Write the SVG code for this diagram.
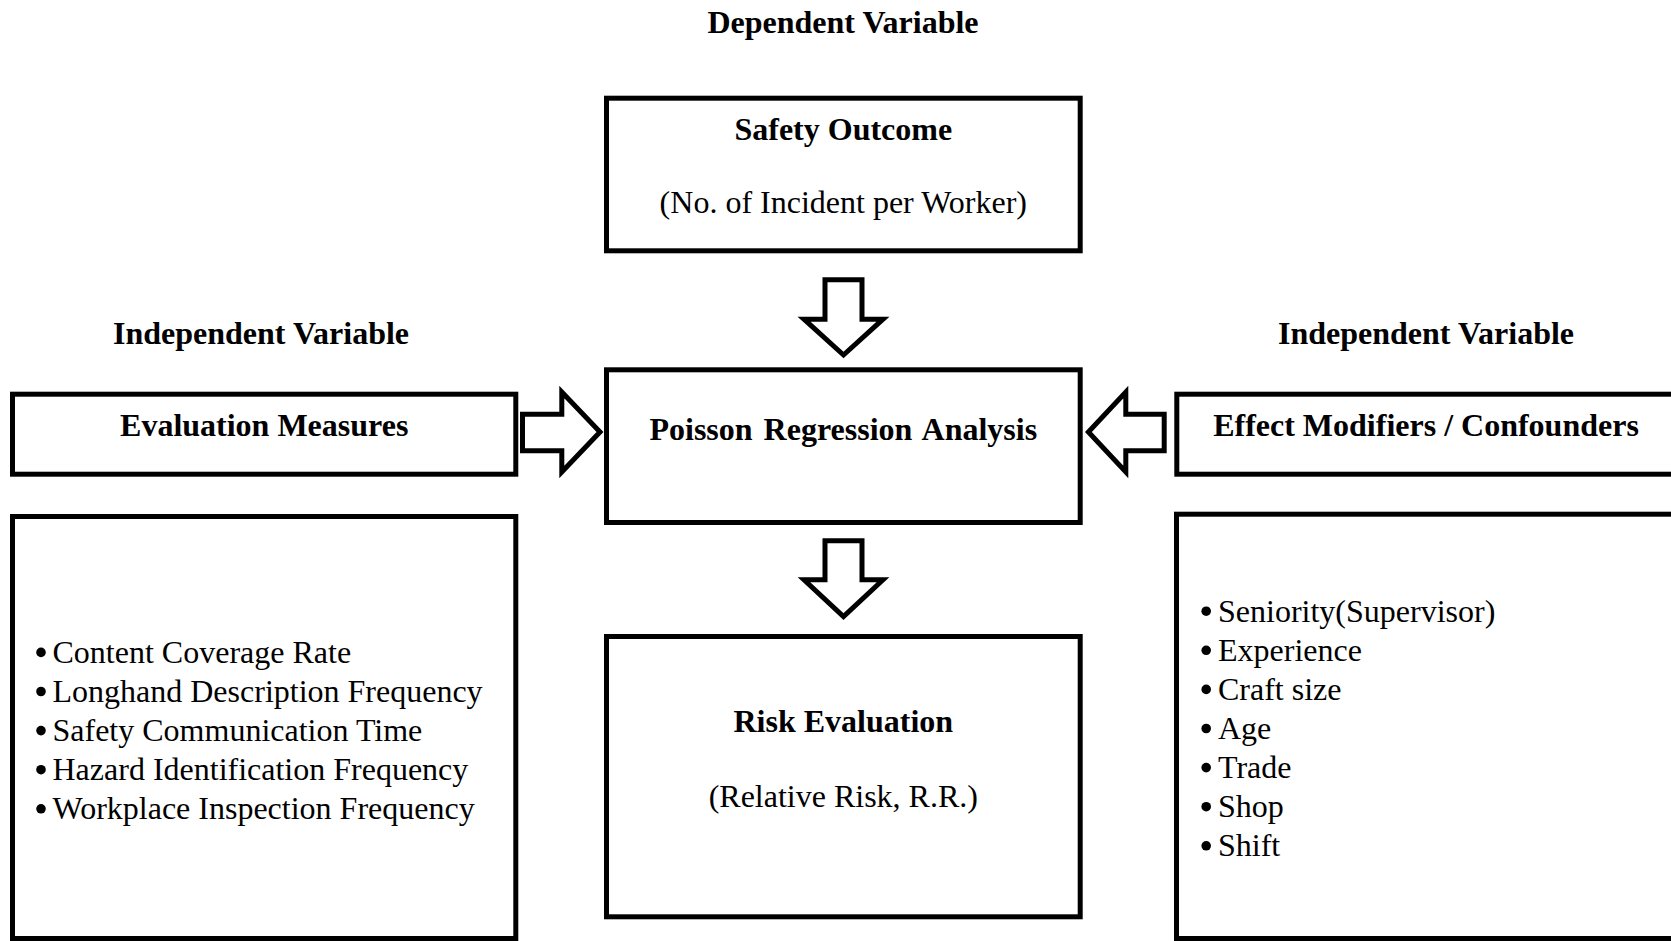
<svg xmlns="http://www.w3.org/2000/svg" width="1671" height="941" viewBox="0 0 1671 941">
  <style>
    .box { fill: #ffffff; stroke: #000000; stroke-width: 5; }
    .arrow { fill: #ffffff; stroke: #000000; stroke-width: 5; stroke-linejoin: miter; stroke-miterlimit: 10; }
    .title { font-family: "Liberation Serif", "Times New Roman", serif; font-size: 32px; font-weight: bold; fill: #000000; }
    .body { font-family: "Liberation Serif", "Times New Roman", serif; font-size: 32px; fill: #000000; }
    .mid { text-anchor: middle; }
    .dot { fill: #000000; }
  </style>
  <rect width="1671" height="941" fill="#ffffff"/>

  <!-- section headings -->
  <g id="headings">
    <text class="title mid" x="843" y="33">Dependent Variable</text>
    <text class="title mid" x="261" y="344">Independent Variable</text>
    <text class="title mid" x="1426" y="344">Independent Variable</text>
  </g>

  <!-- block arrows between the boxes -->
  <g id="connectors">
    <polygon class="arrow" points="825,279.8 862,279.8 862,319.2 883,319.2 843.5,355 804,319.2 825,319.2"/>
    <polygon class="arrow" points="825,540.8 862,540.8 862,579.8 883,579.8 843.5,616.6 804,579.8 825,579.8"/>
    <polygon class="arrow" points="522.5,414.2 561.8,414.2 561.8,392 600,432 561.8,472 561.8,450.8 522.5,450.8"/>
    <polygon class="arrow" points="1164.2,414.2 1125.8,414.2 1125.8,392 1088.4,432 1125.8,472 1125.8,450.8 1164.2,450.8"/>
  </g>

  <g id="safety-outcome">
    <rect class="box" x="606.5" y="98.2" width="473.7" height="152.6"/>
    <text class="title mid" x="843.3" y="140">Safety Outcome</text>
    <text class="body mid" x="843.3" y="213">(No. of Incident per Worker)</text>
  </g>

  <g id="poisson-regression">
    <rect class="box" x="606.5" y="369.8" width="473.7" height="152.7"/>
    <text class="title mid" x="843.3" y="440" word-spacing="3">Poisson Regression Analysis</text>
  </g>

  <g id="risk-evaluation">
    <rect class="box" x="606.5" y="636.5" width="473.7" height="280.3"/>
    <text class="title mid" x="843.3" y="731.7">Risk Evaluation</text>
    <text class="body mid" x="843.3" y="806.7">(Relative Risk, R.R.)</text>
  </g>

  <g id="evaluation-measures">
    <rect class="box" x="12.5" y="394.2" width="503.3" height="80"/>
    <text class="title mid" x="264.2" y="436">Evaluation Measures</text>
  </g>

  <g id="evaluation-measures-list">
    <rect class="box" x="12.5" y="516.5" width="503.3" height="422"/>
    <circle class="dot" cx="41" cy="652.4" r="4.8"/>
    <circle class="dot" cx="41" cy="691.5" r="4.8"/>
    <circle class="dot" cx="41" cy="730.6" r="4.8"/>
    <circle class="dot" cx="41" cy="769.7" r="4.8"/>
    <circle class="dot" cx="41" cy="808.8" r="4.8"/>
    <text class="body" x="52.5" y="662.9">Content Coverage Rate</text>
    <text class="body" x="52.5" y="702">Longhand Description Frequency</text>
    <text class="body" x="52.5" y="741.1">Safety Communication Time</text>
    <text class="body" x="52.5" y="780.2">Hazard Identification Frequency</text>
    <text class="body" x="52.5" y="819.3">Workplace Inspection Frequency</text>
  </g>

  <g id="effect-modifiers">
    <rect class="box" x="1176.8" y="394.2" width="497" height="80"/>
    <text class="title mid" x="1426" y="436">Effect Modifiers / Confounders</text>
  </g>

  <g id="effect-modifiers-list">
    <rect class="box" x="1176.5" y="514.2" width="497" height="424.3"/>
    <circle class="dot" cx="1206.2" cy="611.2" r="4.8"/>
    <circle class="dot" cx="1206.2" cy="650.3" r="4.8"/>
    <circle class="dot" cx="1206.2" cy="689.4" r="4.8"/>
    <circle class="dot" cx="1206.2" cy="728.5" r="4.8"/>
    <circle class="dot" cx="1206.2" cy="767.6" r="4.8"/>
    <circle class="dot" cx="1206.2" cy="806.7" r="4.8"/>
    <circle class="dot" cx="1206.2" cy="845.8" r="4.8"/>
    <text class="body" x="1218" y="621.7">Seniority(Supervisor)</text>
    <text class="body" x="1218" y="660.8">Experience</text>
    <text class="body" x="1218" y="699.9">Craft size</text>
    <text class="body" x="1218" y="739">Age</text>
    <text class="body" x="1218" y="778.1">Trade</text>
    <text class="body" x="1218" y="817.2">Shop</text>
    <text class="body" x="1218" y="856.3">Shift</text>
  </g>
</svg>
